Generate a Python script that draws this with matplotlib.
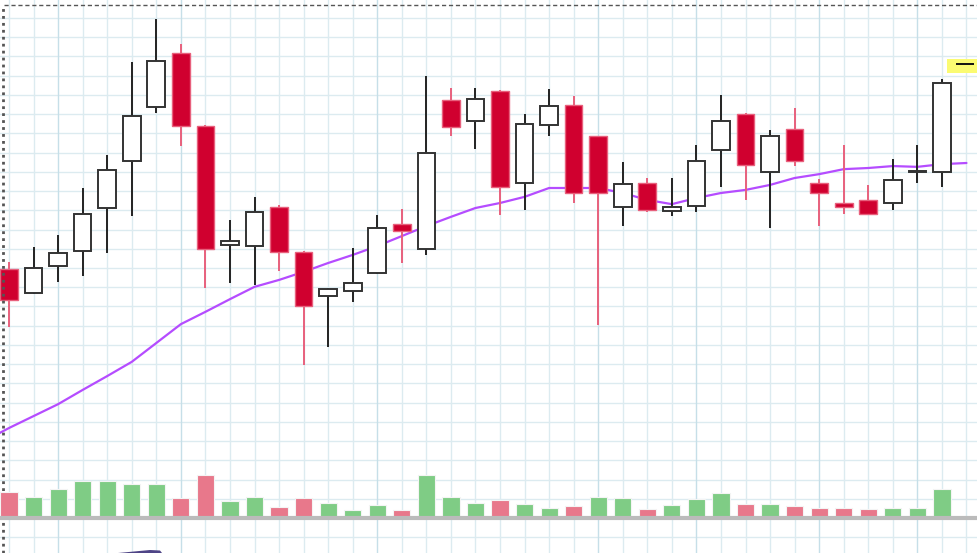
import matplotlib
matplotlib.use("Agg")
import matplotlib.pyplot as plt
from matplotlib.patches import Rectangle, Polygon
import numpy as np

# ---------------- data ----------------
opens = [23.47, 22.85, 23.55, 23.94, 25.06, 26.28, 27.69, 29.09, 27.19, 24.10,
         24.07, 25.09, 23.92, 22.77, 22.90, 23.37, 24.64, 23.99, 27.87, 27.32,
         28.10, 25.71, 27.22, 27.74, 26.93, 25.09, 25.71, 24.98, 25.11, 26.57,
         27.50, 26.00, 27.11, 25.71, 25.19, 25.27, 25.19, 26.00, 26.00]
closes = [22.67, 23.50, 23.89, 24.90, 26.05, 27.45, 28.88, 27.19, 23.99, 24.20,
          24.96, 23.92, 22.51, 22.95, 23.11, 24.54, 24.46, 26.49, 27.17, 27.89,
          25.61, 27.24, 27.71, 25.44, 25.46, 25.68, 25.01, 25.09, 26.28, 27.32,
          26.18, 26.93, 26.28, 25.45, 25.09, 24.90, 25.79, 26.02, 28.31]
highs = [23.66, 24.05, 24.36, 25.58, 26.44, 28.86, 29.97, 29.32, 27.22, 24.75,
         25.35, 25.14, 23.94, 22.98, 24.02, 24.88, 25.03, 28.49, 28.18, 28.18,
         28.13, 27.50, 28.15, 27.97, 26.93, 26.26, 25.84, 25.84, 26.70, 28.00,
         27.53, 27.09, 27.66, 25.81, 26.70, 25.66, 26.33, 26.70, 28.41]
lows = [21.97, 22.83, 23.14, 23.29, 23.89, 24.85, 27.53, 26.67, 22.98, 23.11,
        23.06, 23.42, 20.98, 21.45, 22.62, 23.34, 23.63, 23.84, 26.93, 26.59,
        24.88, 25.01, 26.93, 25.19, 22.02, 24.59, 24.96, 24.85, 24.96, 25.61,
        25.27, 24.54, 26.15, 24.59, 24.90, 24.90, 25.01, 25.71, 25.61]
volumes = [2600, 2100, 2900, 3700, 3700, 3400, 3400, 2000, 4300, 1700,
           2100, 1100, 2000, 1500, 800, 1300, 800, 4300, 2100, 1500,
           1800, 1400, 1000, 1200, 2100, 2000, 900, 1300, 1900, 2500,
           1400, 1400, 1200, 1000, 1000, 900, 1000, 1000, 2900]
# moving average, index -1 .. 39
ma_index = list(range(-1, 40))
ma_values = [19.00, 19.34, 19.65, 19.96, 20.33, 20.69, 21.06, 21.55, 22.04, 22.36,
             22.69, 23.01, 23.19, 23.40, 23.63, 23.84, 24.07, 24.33, 24.59, 24.83,
             25.06, 25.19, 25.35, 25.58, 25.58, 25.58, 25.45, 25.27, 25.16, 25.32,
             25.45, 25.53, 25.66, 25.84, 25.94, 26.07, 26.10, 26.15, 26.13, 26.20,
             26.23]
last_price = 28.80
major_vlines = [2, 7, 15, 24, 28, 33, 37]

# ---------------- style ----------------
RED_FILL = "#d0002f"
RED_EDGE = "#e8607c"
BULL_EDGE = "#333333"
MA_COLOR = "#b54cff"
VOL_UP = "#7fcc85"
VOL_DOWN = "#e8788b"
GRID = "#dcebf0"
GRID_MAJOR = "#c6dfe8"

W, H = 978, 553
fig = plt.figure(figsize=(W / 100, H / 100), dpi=100)
ax = fig.add_axes([0, 0, 1, 1])
ax.set_facecolor("white")
n = len(opens)
x = np.arange(n)

xlim = (-0.367, 39.47)
ylim = (16.09, 30.468)
ax.set_xlim(*xlim)
ax.set_ylim(*ylim)

# grid
for gy in np.arange(16.5, 31.0, 0.5):
    ax.axhline(gy, color=GRID, lw=1.0, zorder=0)
for gx in range(-1, 41):
    ax.axvline(gx, color=GRID_MAJOR if gx in major_vlines else GRID, lw=1.0, zorder=0)

for s in ax.spines.values():
    s.set_visible(False)
ax.set_xticks([])
ax.set_yticks([])

# volume axes (overlay)
vax = fig.add_axes([0, 0, 1, 1], sharex=ax)
vax.patch.set_alpha(0)
vax.set_ylim(-3500, 51800)
for s in vax.spines.values():
    s.set_visible(False)
vax.set_xticks([])
vax.set_yticks([])
vol_colors = []
for i in range(n):
    prev = closes[i - 1] if i > 0 else opens[i]
    vol_colors.append(VOL_UP if closes[i] >= prev else VOL_DOWN)
vax.bar(x, volumes, width=0.70, color=vol_colors, edgecolor="#f4f4f4", linewidth=0.8, zorder=2)
vax.axhline(0, color="#bbbbbb", lw=3, zorder=3)

# MA line
ax.plot(ma_index, ma_values, color=MA_COLOR, lw=1.6, zorder=2, solid_capstyle="round")

# candles
for i in range(n):
    o, c, h, l = opens[i], closes[i], highs[i], lows[i]
    bull = c >= o
    wick_col = "#222222" if bull else RED_EDGE
    ax.vlines(i, l, h, color=wick_col, lw=1.4, zorder=3)
    bottom = min(o, c)
    height = max(abs(c - o), 0.03)
    if bull:
        ax.add_patch(Rectangle((i - 0.36, bottom), 0.72, height, facecolor="white",
                               edgecolor=BULL_EDGE, lw=1.4, zorder=4))
    else:
        ax.add_patch(Rectangle((i - 0.36, bottom), 0.72, height, facecolor=RED_FILL,
                               edgecolor=RED_EDGE, lw=1.0, zorder=4))

# last price marker (yellow highlight)
ax.add_patch(Rectangle((38.2, last_price - 0.23), 2.0, 0.36, facecolor="#fbfb72",
                       edgecolor="none", zorder=5))
ax.hlines(last_price, 38.57, 39.31, color="#111111", lw=1.4, zorder=6)

# borders (dashed top, dotted left)
ax.plot([4 / W, 1], [1 - 4.5 / H, 1 - 4.5 / H], transform=ax.transAxes, color="#555555",
        lw=1.0, ls=(0, (3, 2)), zorder=7, clip_on=False)
ax.plot([3.5 / W, 3.5 / W], [0, 1 - 4.5 / H], transform=ax.transAxes, color="#555555",
        lw=2.0, ls=(0, (1, 1.5)), zorder=7, clip_on=False)

# small navigator fragment at the bottom
ax.add_patch(Polygon([(118 / W, 0), (150 / W, 3 / H), (160 / W, 2.5 / H), (162 / W, 0)],
                     closed=True, transform=ax.transAxes, facecolor="#4e4486",
                     edgecolor="none", zorder=7))

fig.savefig("out.png", dpi=100)
